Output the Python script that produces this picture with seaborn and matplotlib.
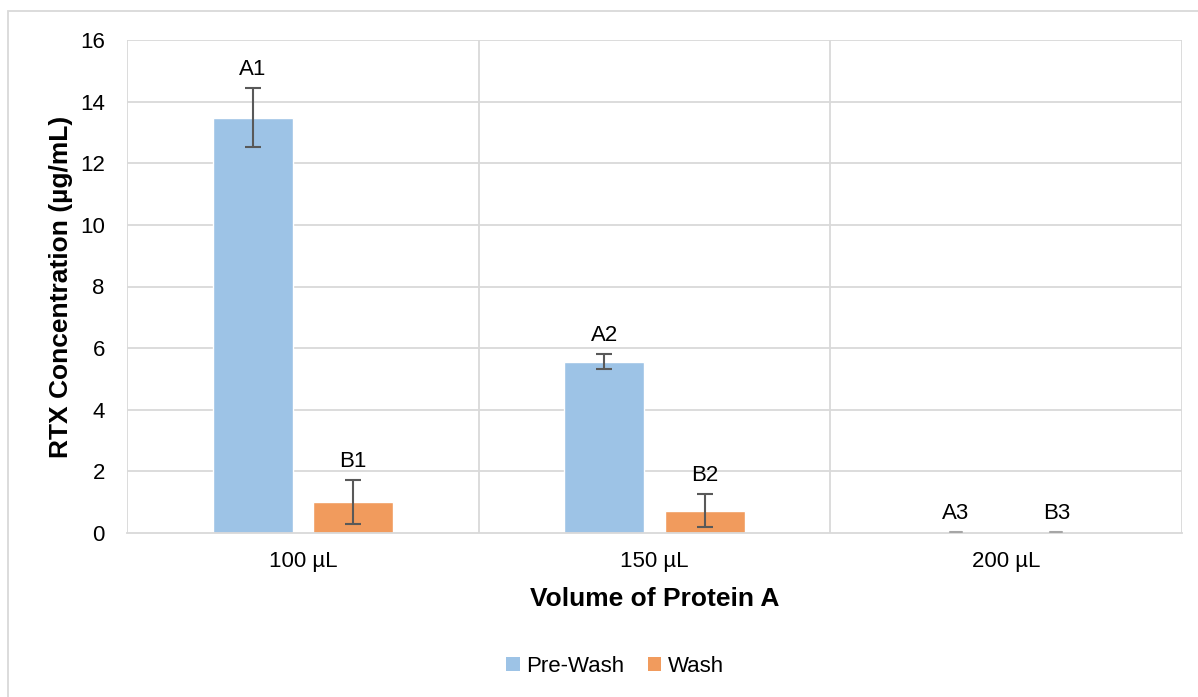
import matplotlib
matplotlib.use("Agg")
import matplotlib.pyplot as plt
import seaborn as sns
import pandas as pd
from matplotlib.patches import Rectangle, Patch

sns.set_theme(style="white")
plt.rcParams["font.family"] = ["Liberation Sans", "DejaVu Sans"]
plt.rcParams["text.color"] = "#000000"
plt.rcParams["axes.labelcolor"] = "#000000"

# Data
volumes = ["100 µL", "150 µL", "200 µL"]
series = ["Pre-Wash", "Wash"]
pre_wash = [13.48, 5.56, 0.02]
wash = [1.00, 0.72, 0.02]
pre_wash_err = [0.95, 0.25, 0.0]
wash_err = [0.72, 0.54, 0.0]
pre_wash_labels = ["A1", "A2", "A3"]
wash_labels = ["B1", "B2", "B3"]
y_ticks = [0, 2, 4, 6, 8, 10, 12, 14, 16]

colors = {"Pre-Wash": "#9DC3E6", "Wash": "#F19B5D"}

df = pd.DataFrame({
    "Volume": volumes * 2,
    "Series": [series[0]] * 3 + [series[1]] * 3,
    "Value": pre_wash + wash,
    "Err": pre_wash_err + wash_err,
    "Label": pre_wash_labels + wash_labels,
})

fig = plt.figure(figsize=(11.98, 6.97), dpi=100)
ax = fig.add_axes([127 / 1198, 1 - 533 / 697, (1182 - 127) / 1198, (533 - 40) / 697])

sns.barplot(data=df, x="Volume", y="Value", hue="Series", order=volumes,
            hue_order=series, palette=colors, ax=ax, errorbar=None,
            width=0.57, gap=0.2, saturation=1, legend=False)

# Error bars and letter labels on each bar
for s_idx, s in enumerate(series):
    cont = ax.containers[s_idx]
    sub = df[df["Series"] == s].set_index("Volume").loc[volumes]
    for patch, (_, row) in zip(cont.patches, sub.iterrows()):
        xc = patch.get_x() + patch.get_width() / 2
        if row["Err"] > 0:
            ax.errorbar(xc, row["Value"], yerr=row["Err"], fmt="none",
                        ecolor="#595959", elinewidth=1.5, capsize=6, capthick=1.5, zorder=4)
        else:
            ax.plot([xc - 0.017, xc + 0.017], [row["Value"], row["Value"]],
                    color="#A6A6A6", lw=1.5, zorder=4)
        ax.annotate(row["Label"], (xc, row["Value"] + row["Err"]),
                    xytext=(0, 6), textcoords="offset points",
                    ha="center", va="bottom", fontsize=16, color="#000000")

ax.set_ylim(0, 16)
ax.set_xlim(-0.5, 2.5)
ax.set_yticks(y_ticks)
ax.set_yticklabels([str(t) for t in y_ticks], fontsize=16, color="#000000")
ax.tick_params(axis="x", labelsize=16, colors="#000000", length=0, pad=13)
ax.tick_params(axis="y", length=0, pad=16)

# Gridlines: horizontal value grid plus category boundaries
ax.set_axisbelow(True)
for t in y_ticks[1:]:
    ax.axhline(t, color="#D9D9D9", lw=1.3, zorder=0)
for xb in [-0.5, 0.5, 1.5, 2.5]:
    ax.axvline(xb, color="#D9D9D9", lw=1.3, zorder=0)
for sp in ["top", "right", "left"]:
    ax.spines[sp].set_visible(False)
ax.spines["bottom"].set_color("#D9D9D9")
ax.spines["bottom"].set_linewidth(1.3)

ax.set_xlabel("Volume of Protein A", fontsize=19, fontweight="bold", labelpad=11,
              color="#000000")
ax.set_ylabel("RTX Concentration (µg/mL)", fontsize=19, fontweight="bold", labelpad=5,
              color="#000000")

handles = [Patch(facecolor=colors[s], edgecolor="none", label=s) for s in series]
fig.legend(handles=handles, loc="center", bbox_to_anchor=(0.5 + 16 / 1198, 1 - 666 / 697),
           ncol=2, frameon=False, fontsize=16, handlelength=0.6, handleheight=0.6,
           handletextpad=0.3, columnspacing=1.05, labelcolor="#000000")

# Chart area outline
fig.add_artist(Rectangle((8 / 1198, -0.05), 1.2, 1 - 11 / 697 + 0.05,
                         transform=fig.transFigure, fill=False,
                         edgecolor="#D9D9D9", lw=1.3))

fig.savefig("out.png", dpi=100, facecolor="white")
